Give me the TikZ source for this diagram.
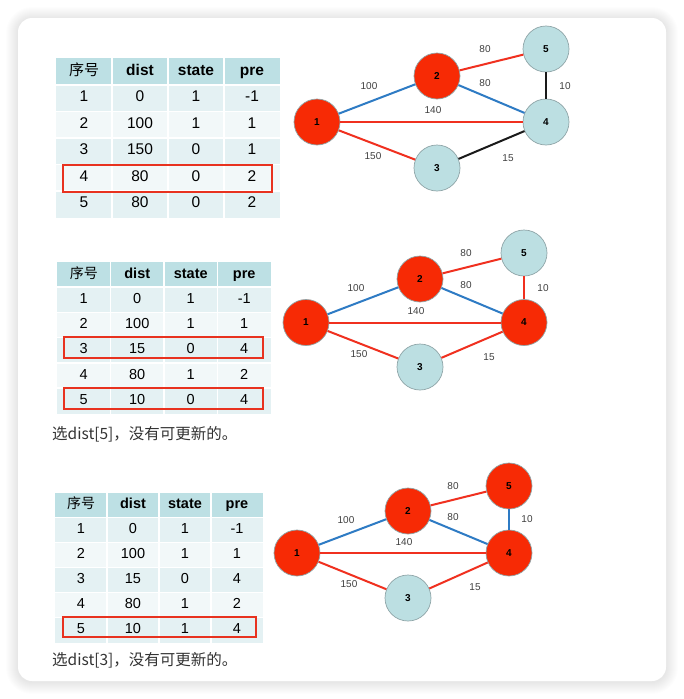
\documentclass[tikz,border=0pt]{standalone}
\usepackage{fontspec}
\setmainfont{Liberation Sans}
\newfontfamily\cjk{Noto Sans CJK SC}
\definecolor{hdr}{HTML}{BDE0E4}
\definecolor{rowA}{HTML}{E4F1F3}
\definecolor{rowB}{HTML}{F2F8F9}
\definecolor{nred}{HTML}{F72A05}
\definecolor{nblue}{HTML}{BCDFE2}
\definecolor{nbord}{HTML}{8FA5A8}
\definecolor{ered}{HTML}{F0301F}
\definecolor{eblue}{HTML}{2E7BC4}
\definecolor{eblack}{HTML}{1A1A1A}
\definecolor{hlred}{HTML}{E8321F}
\definecolor{lbl}{HTML}{404040}
\tikzset{
  rn/.style={circle,minimum size=46pt,inner sep=0pt,draw=nbord,line width=0.7pt,fill=nred,font=\bfseries\fontsize{10}{10}\selectfont},
  bn/.style={rn,fill=nblue},
  er/.style={draw=ered,line width=2pt},
  eb/.style={draw=eblue,line width=2pt},
  ek/.style={draw=eblack,line width=2pt},
  el/.style={text=lbl,font=\fontsize{10}{10}\selectfont,inner sep=0pt},
  hl/.style={draw=hlred,line width=1.6pt},
  sep/.style={draw=white,line width=1.6pt},
  cell/.style={inner sep=0pt,text height=0.72em,text depth=0em},
  captext/.style={anchor=west,inner sep=0pt,font=\cjk\fontsize{15.5}{15.5}\selectfont,text=black!80},
}
\begin{document}
\begin{tikzpicture}[x=1pt,y=-1pt]
\useasboundingbox (0,0) rectangle (684,699);
\fill[white] (0,0) rectangle (684,699);
% shadow
\foreach \i in {1,...,12}{
  \fill[black,opacity=0.009,rounded corners={14+\i}] ({18-\i},{18-\i+1}) rectangle ({666+\i},{681+\i+1});
}
\fill[white,rounded corners=14] (18,18) rectangle (666,681);

% ---------- table 1 ----------
\begin{scope}[shift={(56,58)}]
\def\cw{56}\def\hh{27}\def\rh{26.5}
\fill[hdr] (0,0) rectangle (4*\cw,\hh);
\foreach \r in {1,3,5} \fill[rowA] (0,{\hh+(\r-1)*\rh}) rectangle (4*\cw,{\hh+\r*\rh});
\foreach \r in {2,4} \fill[rowB] (0,{\hh+(\r-1)*\rh}) rectangle (4*\cw,{\hh+\r*\rh});
\foreach \j in {1,2,3} \draw[sep] (\j*\cw,0) -- (\j*\cw,{\hh+5*\rh});
\foreach \r in {0,...,4} \draw[sep] (0,{\hh+\r*\rh}) -- (4*\cw,{\hh+\r*\rh});
\node[cell,font=\cjk\fontsize{15}{15}\selectfont] (ta-h1) at (0.5*\cw,\hh/2) {序号};
\node[cell,font=\bfseries\fontsize{15.5}{15.5}\selectfont] (ta-h2) at (1.5*\cw,\hh/2) {dist};
\node[cell,font=\bfseries\fontsize{15.5}{15.5}\selectfont] (ta-h3) at (2.5*\cw,\hh/2) {state};
\node[cell,font=\bfseries\fontsize{15.5}{15.5}\selectfont] (ta-h4) at (3.5*\cw,\hh/2) {pre};
\foreach \a/\b/\c/\d [count=\r] in {1/0/1/-1,2/100/1/1,3/150/0/1,4/80/0/2,5/80/0/2}{
  \node[cell,font=\fontsize{15.5}{15.5}\selectfont] (ta-\r-1) at (0.5*\cw,{\hh+(\r-0.5)*\rh}) {\a};
  \node[cell,font=\fontsize{15.5}{15.5}\selectfont] (ta-\r-2) at (1.5*\cw,{\hh+(\r-0.5)*\rh}) {\b};
  \node[cell,font=\fontsize{15.5}{15.5}\selectfont] (ta-\r-3) at (2.5*\cw,{\hh+(\r-0.5)*\rh}) {\c};
  \node[cell,font=\fontsize{15.5}{15.5}\selectfont] (ta-\r-4) at (3.5*\cw,{\hh+(\r-0.5)*\rh}) {\d};
}
\end{scope}
\draw[hl] (63,165) rectangle (272,192);

% ---------- graph 1 ----------
\node[rn] (a1) at (317,122) {1};
\node[rn] (a2) at (437,76) {2};
\node[bn] (a5) at (546,49) {5};
\node[bn] (a4) at (546,122) {4};
\node[bn] (a3) at (437,168) {3};
\draw[eb] (a1) -- (a2);
\draw[er] (a2) -- (a5);
\draw[eb] (a2) -- (a4);
\draw[ek] (a5) -- (a4);
\draw[er] (a1) -- (a4);
\draw[er] (a1) -- (a3);
\draw[ek] (a3) -- (a4);
\node[el] (la25) at (485,49) {80};
\node[el] (la24) at (485,83) {80};
\node[el] (la12) at (369,86) {100};
\node[el] (la14) at (433,110) {140};
\node[el] (la54) at (565,86) {10};
\node[el] (la13) at (373,156) {150};
\node[el] (la34) at (508,158) {15};

% ---------- table 2 ----------
\begin{scope}[shift={(57,262)}]
\def\cw{53.5}\def\hh{25}\def\rh{25.3}
\fill[hdr] (0,0) rectangle (4*\cw,\hh);
\foreach \r in {1,3,5} \fill[rowA] (0,{\hh+(\r-1)*\rh}) rectangle (4*\cw,{\hh+\r*\rh});
\foreach \r in {2,4} \fill[rowB] (0,{\hh+(\r-1)*\rh}) rectangle (4*\cw,{\hh+\r*\rh});
\foreach \j in {1,2,3} \draw[sep] (\j*\cw,0) -- (\j*\cw,{\hh+5*\rh});
\foreach \r in {0,...,4} \draw[sep] (0,{\hh+\r*\rh}) -- (4*\cw,{\hh+\r*\rh});
\node[cell,font=\cjk\fontsize{14}{14}\selectfont] (tb-h1) at (0.5*\cw,\hh/2) {序号};
\node[cell,font=\bfseries\fontsize{14.5}{14.5}\selectfont] (tb-h2) at (1.5*\cw,\hh/2) {dist};
\node[cell,font=\bfseries\fontsize{14.5}{14.5}\selectfont] (tb-h3) at (2.5*\cw,\hh/2) {state};
\node[cell,font=\bfseries\fontsize{14.5}{14.5}\selectfont] (tb-h4) at (3.5*\cw,\hh/2) {pre};
\foreach \a/\b/\c/\d [count=\r] in {1/0/1/-1,2/100/1/1,3/15/0/4,4/80/1/2,5/10/0/4}{
  \node[cell,font=\fontsize{14.5}{14.5}\selectfont] (tb-\r-1) at (0.5*\cw,{\hh+(\r-0.5)*\rh}) {\a};
  \node[cell,font=\fontsize{14.5}{14.5}\selectfont] (tb-\r-2) at (1.5*\cw,{\hh+(\r-0.5)*\rh}) {\b};
  \node[cell,font=\fontsize{14.5}{14.5}\selectfont] (tb-\r-3) at (2.5*\cw,{\hh+(\r-0.5)*\rh}) {\c};
  \node[cell,font=\fontsize{14.5}{14.5}\selectfont] (tb-\r-4) at (3.5*\cw,{\hh+(\r-0.5)*\rh}) {\d};
}
\end{scope}
\draw[hl] (64,337) rectangle (263,358);
\draw[hl] (64,388) rectangle (263,409);
\node[captext] (cap2) at (52,434) {选dist[5]，没有可更新的。};

% ---------- graph 2 ----------
\node[rn] (b1) at (306,322.5) {1};
\node[rn] (b2) at (420,279) {2};
\node[bn] (b5) at (524,253) {5};
\node[rn] (b4) at (524,322.5) {4};
\node[bn] (b3) at (420,367) {3};
\draw[eb] (b1) -- (b2);
\draw[er] (b2) -- (b5);
\draw[eb] (b2) -- (b4);
\draw[er] (b5) -- (b4);
\draw[er] (b1) -- (b4);
\draw[er] (b1) -- (b3);
\draw[er] (b3) -- (b4);
\node[el] (lb25) at (466,253) {80};
\node[el] (lb24) at (466,285) {80};
\node[el] (lb12) at (356,288) {100};
\node[el] (lb14) at (416,311) {140};
\node[el] (lb54) at (543,288) {10};
\node[el] (lb13) at (359,354) {150};
\node[el] (lb34) at (489,357) {15};

% ---------- table 3 ----------
\begin{scope}[shift={(55,493)}]
\def\cw{52}\def\hh{24.5}\def\rh{25}
\fill[hdr] (0,0) rectangle (4*\cw,\hh);
\foreach \r in {1,3,5} \fill[rowA] (0,{\hh+(\r-1)*\rh}) rectangle (4*\cw,{\hh+\r*\rh});
\foreach \r in {2,4} \fill[rowB] (0,{\hh+(\r-1)*\rh}) rectangle (4*\cw,{\hh+\r*\rh});
\foreach \j in {1,2,3} \draw[sep] (\j*\cw,0) -- (\j*\cw,{\hh+5*\rh});
\foreach \r in {0,...,4} \draw[sep] (0,{\hh+\r*\rh}) -- (4*\cw,{\hh+\r*\rh});
\node[cell,font=\cjk\fontsize{14}{14}\selectfont] (tc-h1) at (0.5*\cw,\hh/2) {序号};
\node[cell,font=\bfseries\fontsize{14.5}{14.5}\selectfont] (tc-h2) at (1.5*\cw,\hh/2) {dist};
\node[cell,font=\bfseries\fontsize{14.5}{14.5}\selectfont] (tc-h3) at (2.5*\cw,\hh/2) {state};
\node[cell,font=\bfseries\fontsize{14.5}{14.5}\selectfont] (tc-h4) at (3.5*\cw,\hh/2) {pre};
\foreach \a/\b/\c/\d [count=\r] in {1/0/1/-1,2/100/1/1,3/15/0/4,4/80/1/2,5/10/1/4}{
  \node[cell,font=\fontsize{14.5}{14.5}\selectfont] (tc-\r-1) at (0.5*\cw,{\hh+(\r-0.5)*\rh}) {\a};
  \node[cell,font=\fontsize{14.5}{14.5}\selectfont] (tc-\r-2) at (1.5*\cw,{\hh+(\r-0.5)*\rh}) {\b};
  \node[cell,font=\fontsize{14.5}{14.5}\selectfont] (tc-\r-3) at (2.5*\cw,{\hh+(\r-0.5)*\rh}) {\c};
  \node[cell,font=\fontsize{14.5}{14.5}\selectfont] (tc-\r-4) at (3.5*\cw,{\hh+(\r-0.5)*\rh}) {\d};
}
\end{scope}
\draw[hl] (63,617) rectangle (256,637);
\node[captext] (cap3) at (52,660) {选dist[3]，没有可更新的。};

% ---------- graph 3 ----------
\node[rn] (c1) at (297,553) {1};
\node[rn] (c2) at (408,511) {2};
\node[rn] (c5) at (509,486) {5};
\node[rn] (c4) at (509,553) {4};
\node[bn] (c3) at (408,598) {3};
\draw[eb] (c1) -- (c2);
\draw[er] (c2) -- (c5);
\draw[eb] (c2) -- (c4);
\draw[eb] (c5) -- (c4);
\draw[er] (c1) -- (c4);
\draw[er] (c1) -- (c3);
\draw[er] (c3) -- (c4);
\node[el] (lc25) at (453,486) {80};
\node[el] (lc24) at (453,517) {80};
\node[el] (lc12) at (346,520) {100};
\node[el] (lc14) at (404,542) {140};
\node[el] (lc54) at (527,519) {10};
\node[el] (lc13) at (349,584) {150};
\node[el] (lc34) at (475,587) {15};
\end{tikzpicture}
\end{document}
